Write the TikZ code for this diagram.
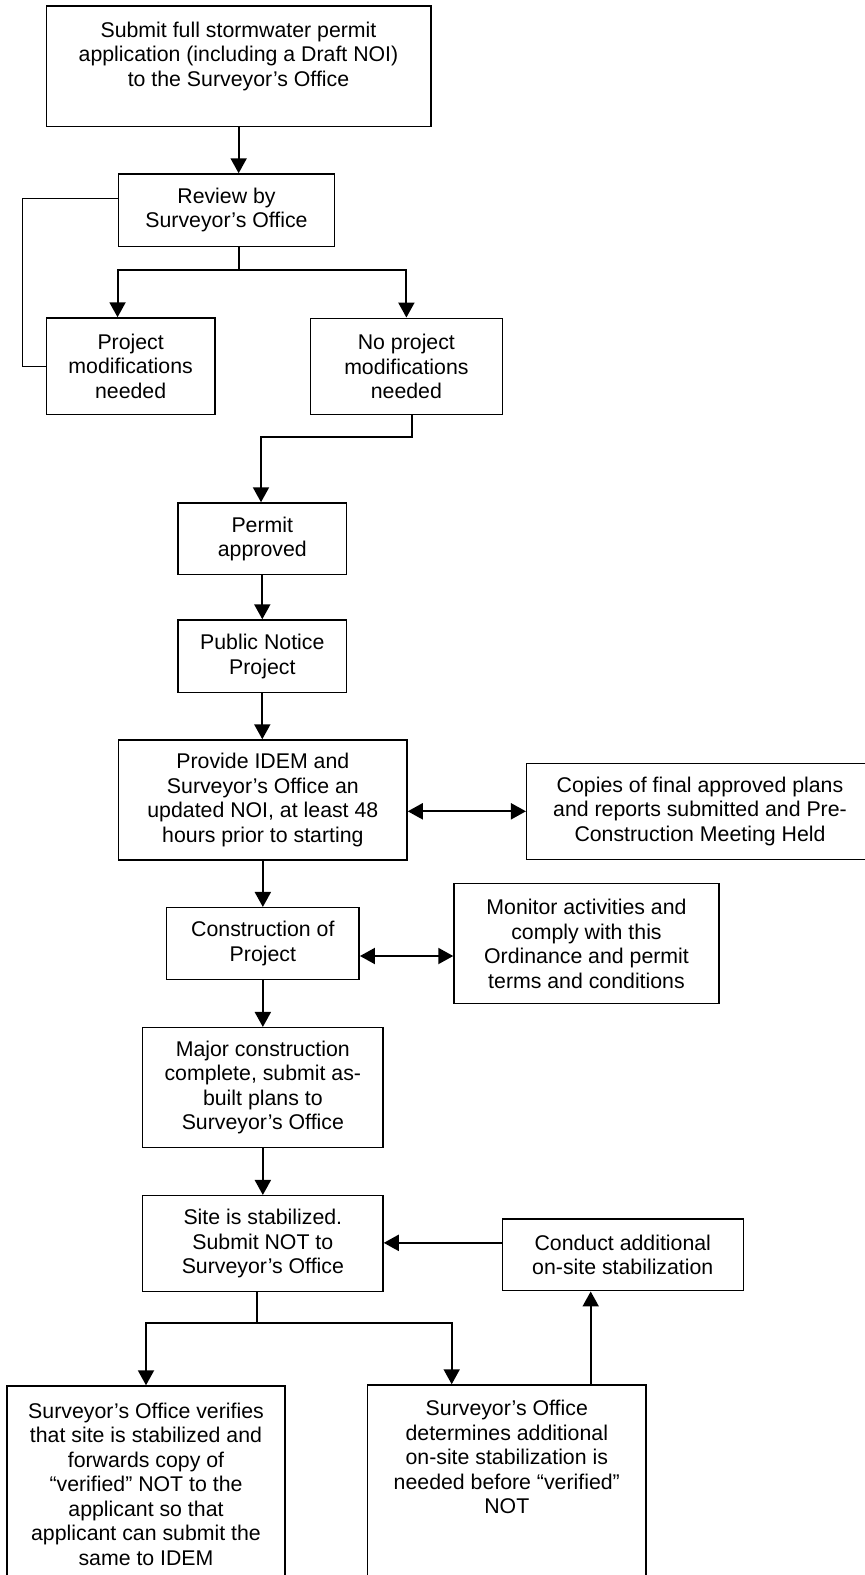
\documentclass[tikz,border=0pt]{standalone}
\usepackage{fontspec}
\setmainfont{Liberation Sans}
\usetikzlibrary{arrows.meta,calc}
\begin{document}
\begin{tikzpicture}[x=1pt,y=-1pt,
  box/.style={draw,line width=1.5pt,inner sep=0pt,align=center,font=\fontsize{21.3}{24.5}\selectfont},
  txt/.style={inner sep=0pt,align=center,anchor=north,font=\fontsize{21.3}{24.5}\selectfont},
  conn/.style={line width=2pt},
  thinconn/.style={line width=1.5pt},
  arr/.style={conn,-{Triangle[width=16pt,length=15pt]}},
  darr/.style={conn,{Triangle[width=16pt,length=15pt]}-{Triangle[width=16pt,length=15pt]}}]
\useasboundingbox (0,0) rectangle (865,1575);
\clip (0,0) rectangle (865,1575);
% boxes
\node[box,minimum width=384.7pt,minimum height=120.3pt] (b1) at (238.65,66.15) {};
\node[txt] (b1t) at (238.5,21.6) {Submit full stormwater permit\\application (including a Draft NOI)\\to the Surveyor’s Office};
\node[box,minimum width=216.4pt,minimum height=72.3pt] (rev) at (226.5,210.15) {Review by\\Surveyor’s Office};
\node[box,minimum width=168.7pt,minimum height=96.7pt] (pmod) at (130.65,366.35) {Project\\modifications\\needed};
\node[box,minimum width=191.8pt,minimum height=96.2pt] (nomod) at (406.4,366.4) {No project\\modifications\\needed};
\node[box,minimum width=168.3pt,minimum height=71.7pt] (perm) at (262.3,538.85) {Permit\\approved};
\node[box,minimum width=168.7pt,minimum height=72.7pt] (pub) at (262.3,656.35) {Public Notice\\Project};
\node[box,minimum width=288.3pt,minimum height=120pt] (prov) at (262.85,800) {Provide IDEM and\\Surveyor’s Office an\\updated NOI, at least 48\\hours prior to starting};
\node[box,minimum width=346.6pt,minimum height=96pt] (copies) at (700,811.3) {Copies of final approved plans\\and reports submitted and Pre-\\Construction Meeting Held};
\node[box,minimum width=192.7pt,minimum height=72pt] (cons) at (262.85,943.7) {Construction of\\Project};
\node[box,minimum width=265pt,minimum height=120pt] (mon) at (586.5,943.7) {Monitor activities and\\comply with this\\Ordinance and permit\\terms and conditions};
\node[box,minimum width=240.3pt,minimum height=120pt] (major) at (262.85,1087.7) {Major construction\\complete, submit as-\\built plans to\\Surveyor’s Office};
\node[box,minimum width=240.3pt,minimum height=96pt] (site) at (262.85,1243.7) {Site is stabilized.\\Submit NOT to\\Surveyor’s Office};
\node[box,minimum width=241pt,minimum height=71.7pt] (cond) at (622.8,1254.85) {Conduct additional\\on-site stabilization};
\node[box,minimum width=278pt,minimum height=214pt] (ver) at (146,1493) {};
\node[txt] (vert) at (146,1402.6) {Surveyor’s Office verifies\\that site is stabilized and\\forwards copy of\\“verified” NOT to the\\applicant so that\\applicant can submit the\\same to IDEM};
\node[box,minimum width=278.3pt,minimum height=215pt] (det) at (506.85,1492.5) {};
\node[txt] (dett) at (506.8,1400.3) {Surveyor’s Office\\determines additional\\on-site stabilization is\\needed before “verified”\\NOT};
% connectors
\draw[arr] (b1.south) -- (b1.south |- rev.north);
\coordinate (fb) at (22.7,300);
\draw[thinconn] ([yshift=11.5pt]rev.west) -| (fb) |- (pmod.west);
\coordinate (s1) at (239,270);
\draw[conn] (s1 |- rev.south) -- (s1);
\draw[arr] (s1) -| (rev.west |- pmod.north);
\draw[arr] (s1) -| (nomod.north);
\coordinate (j1) at (261,437);
\draw[arr] ([xshift=6pt]nomod.south) |- (j1) -- (j1 |- perm.north);
\draw[arr] (perm.south) -- (perm.south |- pub.north);
\draw[arr] (pub.south) -- (pub.south |- prov.north);
\draw[darr] (prov.east |- copies.west) -- (copies.west);
\draw[arr] (prov.south) -- (prov.south |- cons.north);
\coordinate (c1) at ([yshift=-12.3pt]cons.east);
\draw[darr] (c1) -- (c1 -| mon.west);
\draw[arr] (cons.south) -- (cons.south |- major.north);
\draw[arr] (major.south) -- (site.north);
\coordinate (c2) at ([yshift=12pt]cond.west);
\draw[arr] (c2) -- (c2 -| site.east);
\coordinate (s2) at (256.7,1323.3);
\coordinate (s3) at (451.7,1323.3);
\draw[conn] (s2 |- site.south) -- (s2);
\draw[arr] (s2) -| (ver.north);
\draw[arr] (s2) -- (s3) -- (s3 |- det.north);
\coordinate (u1) at (590.7,1385);
\draw[arr] (u1 |- det.north) -- (u1 |- cond.south);
\end{tikzpicture}
\end{document}
